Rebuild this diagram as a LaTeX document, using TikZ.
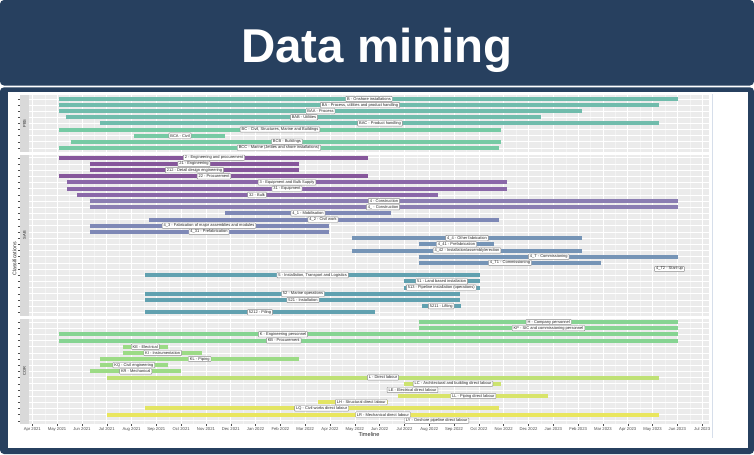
\documentclass[tikz,border=0pt]{standalone}
\usepackage{fontspec}
\setmainfont{Liberation Sans}
\definecolor{navy}{HTML}{27405F}
\definecolor{panelbg}{HTML}{EBEBEB}
\definecolor{stripbg}{HTML}{D9D9D9}
\definecolor{minorc}{HTML}{F3F3F3}
\definecolor{pbsA}{HTML}{70BCAC}
\definecolor{pbsB}{HTML}{76CAA4}
\definecolor{sabA}{HTML}{86579B}
\definecolor{sabB}{HTML}{8A67A8}
\definecolor{sabC}{HTML}{8A7DB2}
\definecolor{sabD}{HTML}{7E88B6}
\definecolor{sabE}{HTML}{7594B6}
\definecolor{sabF}{HTML}{61A1B0}
\definecolor{corA}{HTML}{86D492}
\definecolor{corB}{HTML}{9CDB86}
\definecolor{corC}{HTML}{BFE176}
\definecolor{corD}{HTML}{CCE36F}
\definecolor{corE}{HTML}{D8E46A}
\definecolor{corF}{HTML}{E3E563}
\definecolor{corG}{HTML}{E9E65E}
\definecolor{axtxt}{HTML}{4D4D4D}
\definecolor{labdraw}{HTML}{8C8C8C}
\definecolor{sideline}{HTML}{D6DEEA}
\newcommand\gbar[4]{\fill[#4] (#2,{#1-2}) rectangle (#3,{#1+2});}
\begin{document}
\begin{tikzpicture}[x=0.75pt,y=-0.75pt,
  lab/.style={draw=labdraw,fill=white,line width=0.3pt,rounded corners=0.5pt,
    inner xsep=1.1pt,inner ysep=0pt,minimum height=4pt,
    font=\fontsize{3}{3.5}\selectfont,text=black!85},
  gridmaj/.style={draw=white,line width=0.45pt},
  gridmin/.style={draw=minorc,line width=0.25pt},
  tickc/.style={draw=axtxt,line width=0.3pt},
  ticklab/.style={font=\fontsize{3.15}{3.6}\selectfont,text=axtxt,inner sep=0pt},
  striplab/.style={font=\fontsize{3}{3.5}\selectfont,text=black!85,rotate=90,inner sep=0pt},
  axtitle/.style={font=\fontsize{4.2}{5}\selectfont,text=black!85,inner sep=0pt},
  titletext/.style={font=\fontsize{35.6}{40}\selectfont\bfseries,text=white,inner sep=0pt}]
\useasboundingbox (0,0) rectangle (754,454);
% title bar
\fill[navy,rounded corners=3pt] (0,0) rectangle (754,85.5);
\node[titletext,anchor=base] (title) at (377,62) {Data mining};
% content frame
\fill[navy,rounded corners=3pt] (0,87.3) rectangle (754,454);
\fill[white] (8,92) rectangle (748,448);
\draw[sideline,line width=0.4pt] (712.3,94) -- (712.3,438);
% panels and strips
\fill[panelbg] (29,95) rectangle (709,152);
\fill[panelbg] (29,154.5) rectangle (709,315.5);
\fill[panelbg] (29,318.5) rectangle (709,423.5);
\fill[stripbg] (20,95) rectangle (29,152);
\fill[stripbg] (20,154.5) rectangle (29,315.5);
\fill[stripbg] (20,318.5) rectangle (29,423.5);
% vertical grid
\foreach \k in {0,...,26} {\draw[gridmin] ({44.7+24.81*\k},95) -- ({44.7+24.81*\k},423.5);}
\foreach \k in {0,...,27} {\draw[gridmaj] ({32.3+24.81*\k},95) -- ({32.3+24.81*\k},423.5);}
\fill[white] (29,152) rectangle (709,154.5);
\fill[white] (29,315.5) rectangle (709,318.5);
% horizontal grid and left ticks
\foreach \i in {0,...,8} {\draw[gridmaj] (29,{99+6.1*\i}) -- (709,{99+6.1*\i});
  \draw[tickc] (17.8,{99+6.1*\i}) -- (20,{99+6.1*\i});}
\foreach \i in {0,...,25} {\draw[gridmaj] (29,{157.7+6.185*\i}) -- (709,{157.7+6.185*\i});
  \draw[tickc] (17.8,{157.7+6.185*\i}) -- (20,{157.7+6.185*\i});}
\foreach \i in {0,...,16} {\draw[gridmaj] (29,{322+6.17*\i}) -- (709,{322+6.17*\i});
  \draw[tickc] (17.8,{322+6.17*\i}) -- (20,{322+6.17*\i});}
% x axis ticks and labels
\foreach \k/\t in {0/Apr 2021,1/May 2021,2/Jun 2021,3/Jul 2021,4/Aug 2021,5/Sep 2021,6/Oct 2021,7/Nov 2021,8/Dec 2021,9/Jan 2022,10/Feb 2022,11/Mar 2022,12/Apr 2022,13/May 2022,14/Jun 2022,15/Jul 2022,16/Aug 2022,17/Sep 2022,18/Oct 2022,19/Nov 2022,20/Dec 2022,21/Jan 2023,22/Feb 2023,23/Mar 2023,24/Apr 2023,25/May 2023,26/Jun 2023,27/Jul 2023}
  {\draw[tickc] ({32.3+24.81*\k},423.5) -- ({32.3+24.81*\k},425.6);
   \node[ticklab] (tl\k) at ({32.3+24.81*\k},429) {\t};}
% axis titles and strips
\node[axtitle] (xt) at (369,434.3) {Timeline};
\node[axtitle,rotate=90,font=\fontsize{3.9}{4.5}\selectfont] (yt) at (14.5,259) {Classifications};
\node[striplab] (s1) at (24.5,123.5) {PBS};
\node[striplab] (s2) at (24.5,235) {SAB};
\node[striplab] (s3) at (24.5,371) {COR};
% PBS bars
\gbar{99}{59.3}{678.3}{pbsA}
\gbar{105.1}{59.3}{659}{pbsA}
\gbar{111.2}{59.3}{581.7}{pbsA}
\gbar{117.3}{65.7}{541}{pbsA}
\gbar{123.4}{99.7}{659}{pbsA}
\gbar{129.5}{59.3}{501}{pbsB}
\gbar{135.6}{133.7}{225}{pbsB}
\gbar{141.7}{71}{501}{pbsB}
\gbar{147.8}{59.3}{498.7}{pbsB}
% SAB bars
\gbar{157.7}{59.3}{368.3}{sabA}
\gbar{163.9}{90}{299.3}{sabA}
\gbar{170.1}{90}{299.3}{sabA}
\gbar{176.3}{59.3}{368.3}{sabA}
\gbar{182.4}{66.7}{506.7}{sabB}
\gbar{188.6}{66.7}{506.7}{sabB}
\gbar{194.8}{76.7}{438.3}{sabB}
\gbar{201.0}{90}{678.3}{sabC}
\gbar{207.2}{90}{678.3}{sabC}
\gbar{213.4}{225.3}{391}{sabD}
\gbar{219.6}{148.7}{498.5}{sabD}
\gbar{225.7}{90}{329}{sabD}
\gbar{231.9}{90}{329}{sabD}
\gbar{238.1}{351.7}{581.7}{sabE}
\gbar{244.3}{419}{494.3}{sabE}
\gbar{250.5}{351.7}{581.7}{sabE}
\gbar{256.7}{419}{678.3}{sabE}
\gbar{262.9}{419}{600.7}{sabE}
\gbar{275.2}{145.3}{480}{sabF}
\gbar{281.4}{404}{480}{sabF}
\gbar{287.6}{404}{480}{sabF}
\gbar{293.8}{145.3}{460}{sabF}
\gbar{300.0}{145.3}{460}{sabF}
\gbar{306.2}{421.7}{460.7}{sabF}
\gbar{312.3}{145.3}{375}{sabF}
% COR bars
\gbar{322}{419}{678.3}{corA}
\gbar{328.2}{419}{678.3}{corA}
\gbar{334.3}{59.3}{678.3}{corA}
\gbar{340.5}{59.3}{678.3}{corA}
\gbar{346.7}{122.7}{168.3}{corB}
\gbar{352.9}{122.7}{202.3}{corB}
\gbar{359.0}{99.7}{299.3}{corB}
\gbar{365.2}{99.7}{168.3}{corB}
\gbar{371.4}{90}{181}{corB}
\gbar{377.5}{107.3}{659}{corC}
\gbar{383.7}{404}{500.7}{corD}
\gbar{396.0}{398.3}{547.7}{corE}
\gbar{402.2}{317.7}{388}{corF}
\gbar{408.4}{145.3}{498.7}{corF}
\gbar{414.6}{107.3}{659}{corG}
% PBS labels
\node[lab] (p1) at (369,99) {B - Onshore installations};
\node[lab] (p2) at (360,105.1) {BA - Process, utilities and product handling};
\node[lab] (p3) at (320.5,111.2) {BAA - Process};
\node[lab] (p4) at (304,117.3) {BAB - Utilities};
\node[lab] (p5) at (380,123.4) {BAC - Product handling};
\node[lab] (p6) at (280,129.5) {BC - Civil, Structures, Marine and Buildings};
\node[lab] (p7) at (180,135.6) {BCA - Civil};
\node[lab] (p8) at (287,141.7) {BCB - Buildings};
\node[lab] (p9) at (279,147.8) {BCC - Marine (Jetties and shore installations)};
% SAB labels
\node[lab] (a1) at (214,157.7) {2 - Engineering and procurement};
\node[lab] (a2) at (194,163.9) {21 - Engineering};
\node[lab] (a3) at (194.5,170.1) {212 - Detail design engineering};
\node[lab] (a4) at (214,176.3) {22 - Procurement};
\node[lab] (a5) at (287,182.4) {3 - Equipment and Bulk Supply};
\node[lab] (a6) at (287,188.6) {31 - Equipment};
\node[lab] (a7) at (257,194.8) {32 - Bulk};
\node[lab] (a8) at (384,201.0) {4 - Construction};
\node[lab] (a9) at (383,207.2) {4\_ - Construction};
\node[lab] (a10) at (308,213.4) {4\_1 - Mobilisation};
\node[lab] (a11) at (323,219.6) {4\_2 - Civil work};
\node[lab] (a12) at (209,225.7) {4\_3 - Fabrication of major assemblies and modules};
\node[lab] (a13) at (209,231.9) {4\_31 - Prefabrication};
\node[lab] (a14) at (467,238.1) {4\_4 - Other fabrication};
\node[lab] (a15) at (456.5,244.3) {4\_41 - Prefabrication};
\node[lab] (a16) at (467,250.5) {4\_42 - Installation/assembly/erection};
\node[lab] (a17) at (548.7,256.7) {4\_T - Commissioning};
\node[lab] (a18) at (510,262.9) {4\_T1 - Commissioning};
\node[lab] (a19) at (669.5,269.0) {4\_T2 - Start-up};
\node[lab] (a20) at (312.7,275.2) {5 - Installation, Transport and Logistics};
\node[lab] (a21) at (441.7,281.4) {51 - Land based installation};
\node[lab] (a22) at (441.3,287.6) {513 - Pipeline installation (operations)};
\node[lab] (a23) at (303,293.8) {52 - Marine operations};
\node[lab] (a24) at (303,300.0) {521 - Installation};
\node[lab] (a25) at (441.3,306.2) {5211 - Lifting};
\node[lab] (a26) at (260,312.3) {5212 - Piling};
% COR labels
\node[lab] (c1) at (548.7,322) {H - Company personnel};
\node[lab] (c2) at (548.5,328.2) {KP - SIC and commissioning personnel};
\node[lab] (c3) at (283,334.3) {K - Engineering personnel};
\node[lab] (c4) at (283.7,340.5) {KB - Procurement};
\node[lab] (c5) at (145.3,346.7) {KE - Electrical};
\node[lab] (c6) at (162.7,352.9) {KI - Instrumentation};
\node[lab] (c7) at (199.7,359.0) {KL - Piping};
\node[lab] (c8) at (133.8,365.2) {KQ - Civil engineering};
\node[lab] (c9) at (135.7,371.4) {KR - Mechanical};
\node[lab] (c10) at (383,377.5) {L - Direct labour};
\node[lab] (c11) at (453,383.7) {LC - Architectural and building direct labour};
\node[lab] (c12) at (412.5,389.9) {LE - Electrical direct labour};
\node[lab] (c13) at (473.3,396.0) {LL - Piping direct labour};
\node[lab] (c14) at (361.3,402.2) {LH - Structural direct labour};
\node[lab] (c15) at (321.7,408.4) {LQ - Civil works direct labour};
\node[lab] (c16) at (383,414.6) {LR - Mechanical direct labour};
\node[lab] (c17) at (436.7,420.7) {LY - Onshore pipeline direct labour};
\end{tikzpicture}
\end{document}
